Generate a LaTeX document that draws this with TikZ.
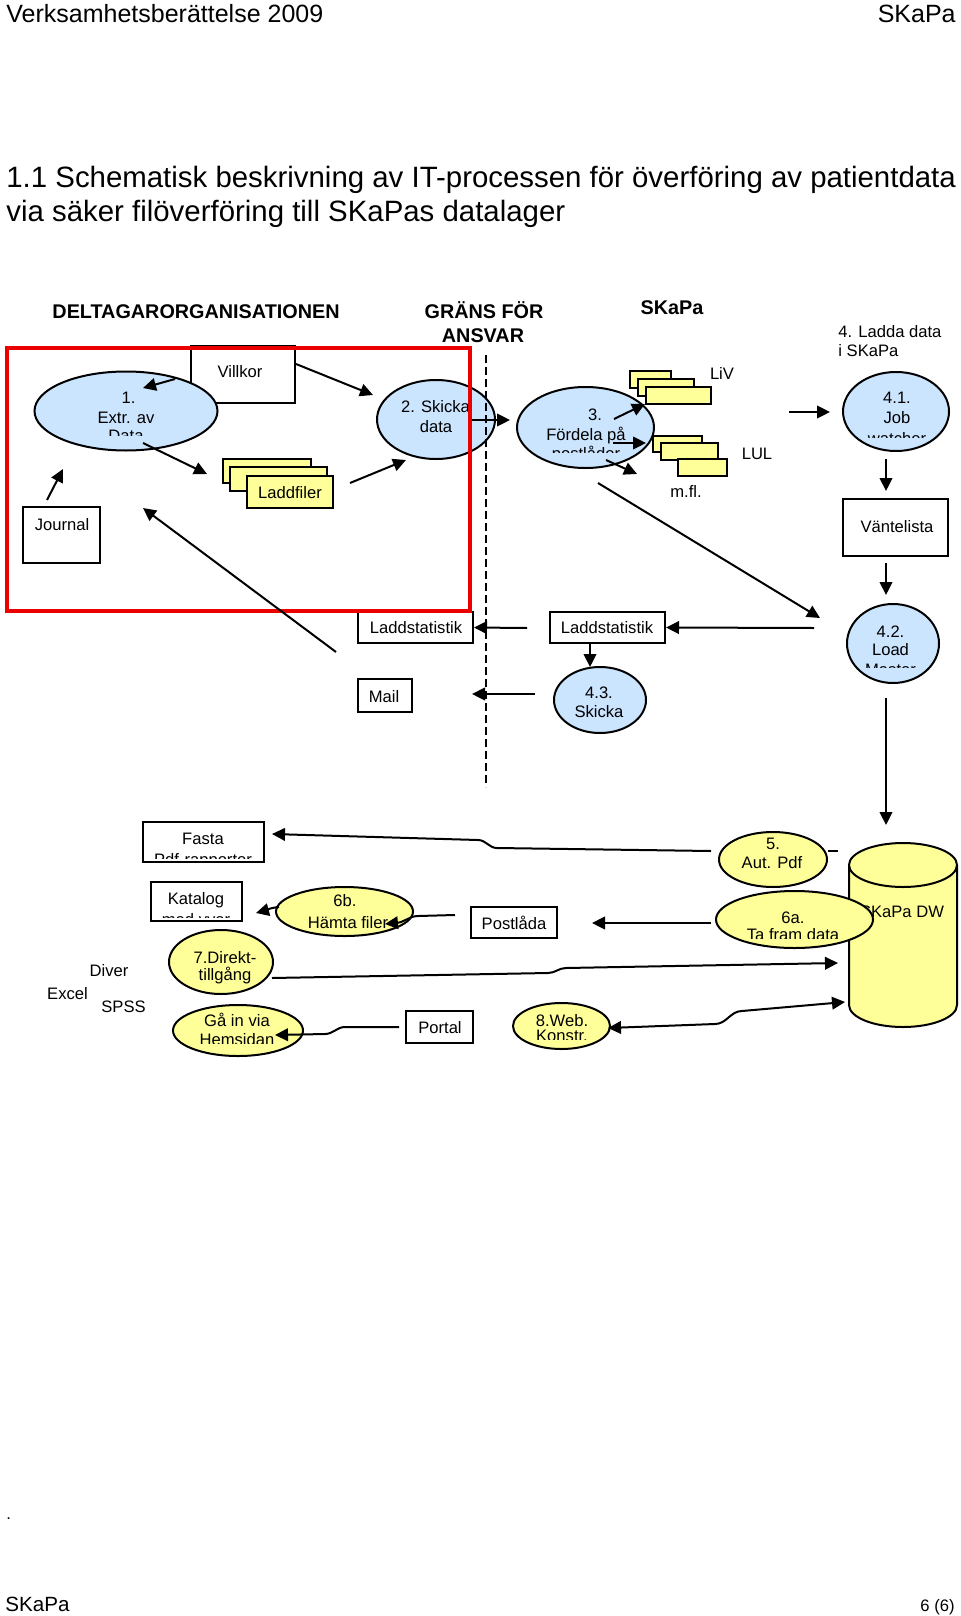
\documentclass[tikz,border=0pt]{standalone}
\usepackage{fontspec}
\setmainfont{Liberation Sans}
\usetikzlibrary{shapes.geometric,arrows.meta,fit}
\definecolor{lblue}{RGB}{204,229,255}
\definecolor{lyel}{RGB}{255,255,153}
\definecolor{myred}{RGB}{235,0,0}
\begin{document}
\begin{tikzpicture}[x=0.5pt,y=-0.5pt,
  lbl/.style={font=\fontsize{8.3}{10}\selectfont, inner sep=0pt, anchor=base},
  hd/.style={font=\bfseries\fontsize{9.9}{12}\selectfont, inner sep=0pt, anchor=base},
  hdr/.style={font=\fontsize{12.5}{15}\selectfont, inner sep=0pt},
  ttl/.style={font=\fontsize{14.7}{17}\selectfont, inner sep=0pt, anchor=base west},
  boxs/.style={draw, line width=1pt, inner sep=0pt, fill=white},
  stackbox/.style={draw, line width=1pt, inner sep=0pt, fill=lyel},
  ell/.style={draw, ellipse, line width=1pt, inner sep=0pt},
  con/.style={line width=1pt, -{Triangle[length=6.5pt,width=6.3pt]}},
  dcon/.style={line width=1pt, {Triangle[length=6.5pt,width=6.3pt]}-{Triangle[length=6.5pt,width=6.3pt]}},
  ln/.style={line width=1pt},
  border/.style={line width=1pt, dash pattern=on 4pt off 2pt},
]
\useasboundingbox[fill=white] (0,0) rectangle (960,1616);

% ---------- header / title / footer ----------
\node[hdr, anchor=base west] (h1) at (6,23) {Verksamhetsberättelse 2009};
\node[hdr, anchor=base east] (h2) at (956,23) {SKaPa};
\node[ttl] (t1) at (6,187) {1.1 Schematisk beskrivning av IT-processen för överföring av patientdata};
\node[ttl] (t2) at (6,221) {via säker filöverföring till SKaPas datalager};
\node[lbl, anchor=base west] (fdot) at (6,1519) {.};
\node[font=\fontsize{10.3}{12}\selectfont, inner sep=0pt, anchor=base west] (f1) at (5,1611) {SKaPa};
\node[lbl, anchor=base east] (f2) at (955,1611) {6 (6)};

% ---------- headings ----------
\node[hd] (hdel) at (196,318) {DELTAGARORGANISATIONEN};
\node[hd] (hgr1) at (484,318) {GRÄNS FÖR};
\node[hd] (hgr2) at (483,342) {ANSVAR};
\node[hd] (hska) at (672,314) {SKaPa};
\node[lbl, anchor=base west] (t4a) at (838,337) {4. Ladda data};
\node[lbl, anchor=base west] (t4b) at (838,356) {i SKaPa};

% ---------- boxes ----------
\node[boxs, fit={(191,346)(295,403)}] (villkor) {};
\node[boxs, fit={(23,507)(100,563)}] (journal) {};
\node[boxs, fit={(843,499)(948,556)}] (vante) {};
\node[boxs, fit={(358,612)(473,643)}] (ls1) {};
\node[boxs, fit={(550,612)(665,643)}] (ls2) {};
\node[boxs, fit={(358,679)(412,712)}] (mail) {};
\node[boxs, fit={(143,822)(264,862)}] (fasta) {};
\node[boxs, fit={(151,882)(242,921)}] (katalog) {};
\node[boxs, fit={(471,907)(557,938)}] (postlada) {};
\node[boxs, fit={(406,1011)(473,1043)}] (portal) {};

% stacked files
\node[stackbox, fit={(223,459)(311,483)}] (lfa) {};
\node[stackbox, fit={(230,467)(327,491)}] (lfb) {};
\node[stackbox, fit={(247,476)(333,508)}] (lfc) {};
\node[stackbox, fit={(630,371)(671,388)}] (liva) {};
\node[stackbox, fit={(638,379)(694,396)}] (livb) {};
\node[stackbox, fit={(646,387)(711,404)}] (livc) {};
\node[stackbox, fit={(653,436)(702,452)}] (lula) {};
\node[stackbox, fit={(661,443)(718,460)}] (lulb) {};
\node[stackbox, fit={(678,459)(727,476)}] (lulc) {};

% ---------- ellipses ----------
\node[ell, fill=lblue, minimum width=91.5pt, minimum height=39.5pt] (e1) at (126,411) {};
\node[ell, fill=lblue, minimum width=59pt, minimum height=39.5pt] (e2) at (436,419.5) {};
\node[ell, fill=lblue, minimum width=68.5pt, minimum height=40.5pt] (e3) at (585.5,427.5) {};
\node[ell, fill=lblue, minimum width=53pt, minimum height=39.5pt] (e41) at (896,411.5) {};
\node[ell, fill=lblue, minimum width=46pt, minimum height=39.5pt] (e42) at (893,643.5) {};
\node[ell, fill=lblue, minimum width=46pt, minimum height=33pt] (e43) at (600,700) {};
\node[ell, fill=lyel, minimum width=54pt, minimum height=27.5pt] (e5) at (773,859.5) {};
\node[ell, fill=lyel, minimum width=68.5pt, minimum height=24.5pt] (e6b) at (344.5,911.5) {};
\node[ell, fill=lyel, minimum width=52pt, minimum height=32pt] (e7) at (221,962) {};
\node[ell, fill=lyel, minimum width=65pt, minimum height=25.5pt] (ega) at (238,1030.5) {};
\node[ell, fill=lyel, minimum width=48.5pt, minimum height=23pt] (e8) at (561.5,1026) {};

% cylinder SKaPa DW
\fill[lyel] (849,865) -- (849,1005) arc[start angle=180,end angle=0,x radius=54,y radius=22] -- (957,865) -- cycle;
\draw[ln] (849,865) -- (849,1005) arc[start angle=180,end angle=0,x radius=54,y radius=22] -- (957,865);
\draw[ln, fill=lyel] (903,865) ellipse[x radius=54, y radius=22];
\coordinate (dw) at (903,935);
\node[lbl] (tdw) at (902,917) {SKaPa DW};
\node[ell, fill=lyel, minimum width=78.5pt, minimum height=28.5pt] (e6a) at (794.5,919.5) {};

% ---------- texts ----------
\node[lbl] (tvill) at (240,377) {Villkor};
\node[lbl] (t1a) at (128.5,403) {1.};
\node[lbl] (t1b) at (126,423) {Extr. av};
\begin{scope}\clip (30,425) rectangle (220,435); \node[lbl] (t1c) at (126,441) {Data};\end{scope}
\node[lbl] (tladd) at (290,498) {Laddfiler};
\node[lbl] (tjour) at (62,530) {Journal};
\node[lbl] (t2a) at (435.5,412) {2. Skicka};
\node[lbl] (t2b) at (436,432) {data};
\node[lbl] (t3a) at (595,420) {3.};
\node[lbl] (t3b) at (586,440) {Fördela på};
\begin{scope}\clip (515,443) rectangle (655,452); \node[lbl] (t3c) at (586,459) {postlåder};\end{scope}
\node[lbl] (tliv) at (722,379) {LiV};
\node[lbl] (tlul) at (757,459) {LUL};
\node[lbl] (tmfl) at (686,497) {m.fl.};
\node[lbl] (t41a) at (897,403) {4.1.};
\node[lbl] (t41b) at (897,423) {Job};
\begin{scope}\clip (843,426) rectangle (949,437); \node[lbl] (t41c) at (897,444) {watcher};\end{scope}
\node[lbl] (tvant) at (897,532) {Väntelista};
\node[lbl] (tls1) at (416,633) {Laddstatistik};
\node[lbl] (tls2) at (607,633) {Laddstatistik};
\node[lbl] (tmail) at (384,702) {Mail};
\node[lbl] (t43a) at (599,698) {4.3.};
\node[lbl] (t43b) at (599,717) {Skicka};
\node[lbl] (t42a) at (890.5,637) {4.2.};
\node[lbl] (t42b) at (890.5,655) {Load};
\begin{scope}\clip (847,658) rectangle (939,667); \node[lbl] (t42c) at (890.5,675) {Master};\end{scope}
\node[lbl] (tfas1) at (203,844) {Fasta};
\begin{scope}\clip (143,847) rectangle (264,858); \node[lbl] (tfas2) at (203,865) {Pdf-rapporter};\end{scope}
\node[lbl] (tkat1) at (196,904) {Katalog};
\begin{scope}\clip (151,907) rectangle (242,917); \node[lbl] (tkat2) at (196,925) {med vyer};\end{scope}
\node[lbl] (t6ba) at (345,906) {6b.};
\node[lbl] (t6bb) at (348,928) {Hämta filer};
\node[lbl] (t7a) at (225,963) {7.Direkt-};
\node[lbl] (t7b) at (225,980) {tillgång};
\node[lbl] (tdiv) at (109,976) {Diver};
\node[lbl] (texc) at (67.5,999) {Excel};
\node[lbl] (tspss) at (123.5,1012) {SPSS};
\node[lbl] (tga1) at (237,1026) {Gå in via};
\begin{scope}\clip (173,1029) rectangle (303,1043); \node[lbl] (tga2) at (237,1045) {Hemsidan};\end{scope}
\node[lbl] (tport) at (440,1033) {Portal};
\node[lbl] (t5a) at (773,849) {5.};
\node[lbl] (t5b) at (772,868) {Aut. Pdf};
\node[lbl] (tpost) at (514,929) {Postlåda};
\node[lbl] (t6aa) at (793,923) {6a.};
\begin{scope}\clip (716,926) rectangle (873,938); \node[lbl] (t6ab) at (793,940) {Ta fram data};\end{scope}
\node[lbl] (t8a) at (562,1026) {8.Web.};
\begin{scope}\clip (513,1029) rectangle (610,1039); \node[lbl] (t8b) at (562,1041) {Konstr.};\end{scope}

% ---------- responsibility frame and border ----------
\node[draw=myred, line width=2pt, inner sep=0pt, fit={(7,348)(470,611)}] (frame) {};
\coordinate (bt) at (486,355);
\coordinate (bb) at (486,787);
\draw[border] (bt) -- (bb);

% ---------- connector end points ----------
\coordinate (a1s) at (175,379);  \coordinate (a1e) at (143,388);
\coordinate (a2s) at (296,364);  \coordinate (a2e) at (373,395);
\coordinate (a3s) at (143,443);  \coordinate (a3e) at (207,474);
\coordinate (a4s) at (350,483);  \coordinate (a4e) at (406,460);
\coordinate (a5s) at (47,500);   \coordinate (a5e) at (63,469);
\coordinate (a6s) at (336,652);  \coordinate (a6e) at (143,508);
\coordinate (a7s) at (472,420);  \coordinate (a7e) at (510,420);
\coordinate (a8s) at (614,419);  \coordinate (a8e) at (645,404);
\coordinate (a9s) at (613,443);  \coordinate (a9e) at (646,443);
\coordinate (a10s) at (606,460); \coordinate (a10e) at (637,474);
\coordinate (a11s) at (598,483); \coordinate (a11e) at (820,618);
\coordinate (a12s) at (789,412); \coordinate (a12e) at (830,412);
\coordinate (a13s) at (886,459); \coordinate (a13e) at (886,491);
\coordinate (a14s) at (886,563); \coordinate (a14e) at (886,595);
\coordinate (a15s) at (814,628); \coordinate (a15e) at (ls2.east);
\coordinate (a16s) at (527,628); \coordinate (a16e) at (ls1.east);
\coordinate (a17s) at (ls2.south -| 590,0); \coordinate (a17e) at (590,667);
\coordinate (a18s) at (535,694); \coordinate (a18e) at (472,694);
\coordinate (a19s) at (886,698); \coordinate (a19e) at (886,825);
\coordinate (a20s) at (711,851); \coordinate (a20e) at (272,834);
\coordinate (a21s) at (828,851); \coordinate (a21e) at (838,851);
\coordinate (a22s) at (711,923); \coordinate (a22e) at (592,923);
\coordinate (a23s) at (455,915); \coordinate (a23e) at (385,924);
\coordinate (a24s) at (279,907); \coordinate (a24e) at (256,913);
\coordinate (a25s) at (272,978); \coordinate (a25e) at (838,963);
\coordinate (a26s) at (399,1027); \coordinate (a26e) at (275,1035);
\coordinate (a27s) at (608,1028); \coordinate (a27e) at (845,1002);

% ---------- connectors ----------
\draw[con] (a1s) -- (a1e);
\draw[con] (a2s) -- (a2e);
\draw[con] (a3s) -- (a3e);
\draw[con] (a4s) -- (a4e);
\draw[con] (a5s) -- (a5e);
\draw[con] (a6s) -- (a6e);
\draw[con] (a7s) -- (a7e);
\draw[con] (a8s) -- (a8e);
\draw[con] (a9s) -- (a9e);
\draw[con] (a10s) -- (a10e);
\draw[con] (a11s) -- (a11e);
\draw[con] (a12s) -- (a12e);
\draw[con] (a13s) -- (a13e);
\draw[con] (a14s) -- (a14e);
\draw[con] (a15s) -- (a15e);
\draw[con] (a16s) -- (a16e);
\draw[con] (a17s) -- (a17e);
\draw[con] (a18s) -- (a18e);
\draw[con] (a19s) -- (a19e);
\draw[con] (a20s) -- (497,848) to[out=180,in=0] (478,840) -- (a20e);
\draw[ln] (a21s) -- (a21e);
\draw[con] (a22s) -- (a22e);
\draw[con] (a23s) -- (418,916) to[out=180,in=0] (395,923) -- (a23e);
\draw[con] (a24s) to[out=185,in=15] (a24e);
\draw[con] (a25s) -- (548,973) to[out=0,in=180] (566,968) -- (a25e);
\draw[con] (a26s) -- (345,1027) to[out=180,in=0] (325,1034) -- (a26e);
\draw[dcon] (a27s) -- (715,1024) to[out=0,in=180] (742,1011) -- (a27e);
\end{tikzpicture}
\end{document}
